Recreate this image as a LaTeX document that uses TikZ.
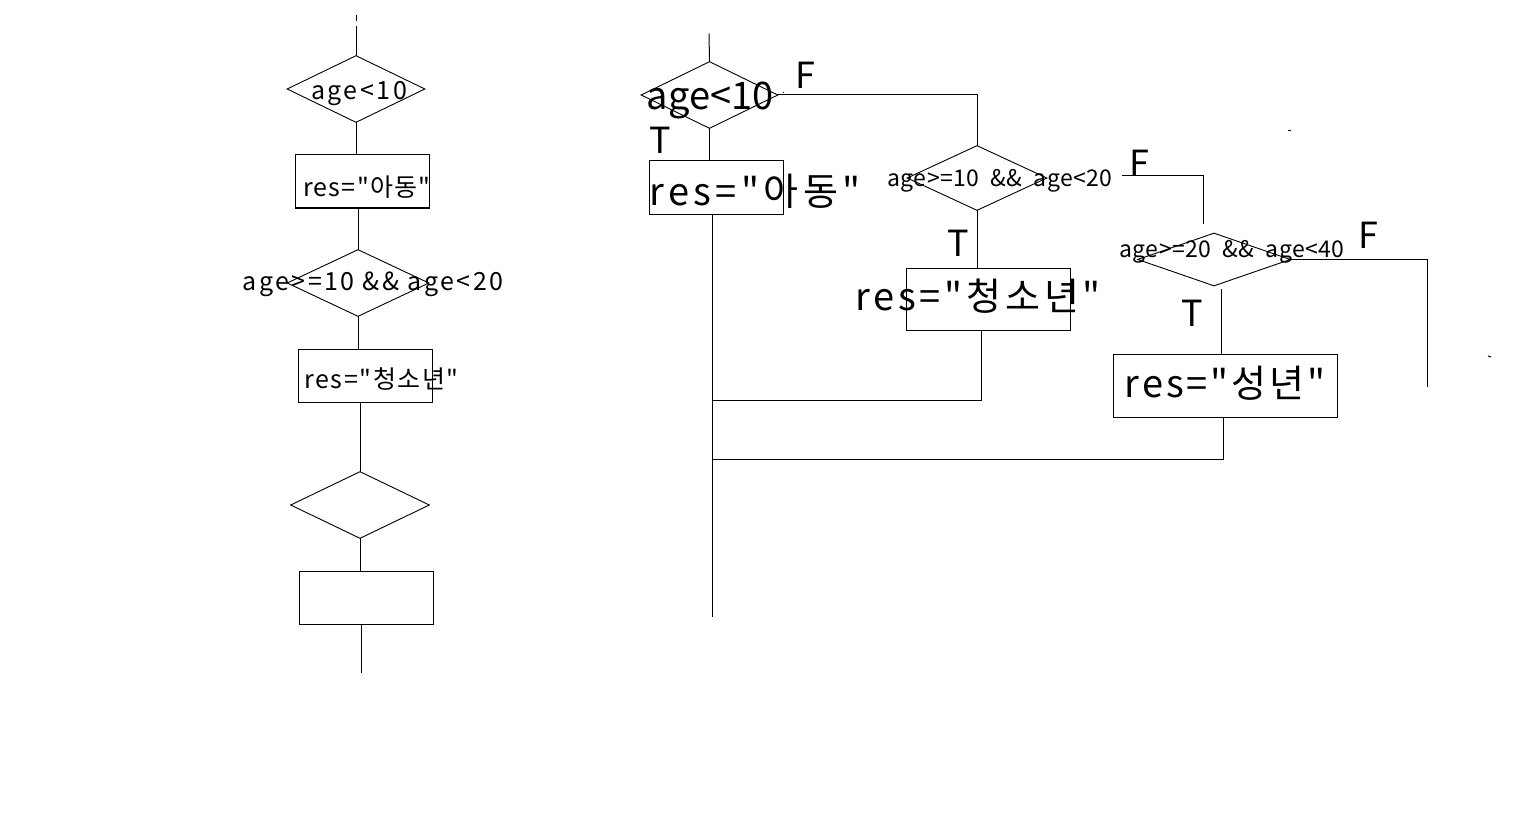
\documentclass[tikz,border=0pt]{standalone}
\usepackage{fontspec}
\setmainfont{Noto Sans CJK KR}[Ligatures=TeXOff]
\usetikzlibrary{shapes.geometric}
\tikzset{
  ln/.style={line width=1pt, line cap=rect},
  dia/.style={diamond, draw, line width=0.9pt, inner sep=0pt, aspect=2},
  boxnode/.style={rectangle, draw, line width=1pt, inner sep=0pt},
  txt/.style={inner sep=0pt, text=black},
}
\newcommand{\fsz}[2]{\fontsize{#1}{#1}\selectfont\addfontfeatures{LetterSpace=#2}}
\begin{document}
\begin{tikzpicture}[x=1pt, y=-1pt]
\useasboundingbox[fill=white] (0,0) rectangle (1519,824);

% ---------- left chart ----------
\node[dia, minimum width=138pt, minimum height=67pt] (d1) at (356,89) {};
\node[boxnode, minimum width=134pt, minimum height=53pt] (b1) at (362,181.5) {};
\node[dia, minimum width=142pt, minimum height=67pt] (d2) at (358,283) {};
\node[boxnode, minimum width=134pt, minimum height=53pt] (b2) at (365,375.5) {};
\node[dia, minimum width=139pt, minimum height=67pt] (d3) at (360,505) {};
\node[boxnode, minimum width=134pt, minimum height=53pt] (b3) at (366,597.5) {};

\node[txt] (t1) at (359,94) {\fsz{25}{10}age<10};
\node[txt, anchor=west] (tb1) at (303,187) {\fsz{25}{5}res="아동"};
\node[txt] (td2) at (373,284) {\fsz{25}{10}age>=10 \&\& age<20};
\node[txt, anchor=west] (tb2) at (304,379) {\fsz{25}{6.5}res="청소년"};

\coordinate (s1) at (356,27);
\coordinate (s0) at (356,16);
\coordinate (e1) at (361,672);
\draw[ln] (s0) -- ++(0,5);
\draw[ln] (s1) -- (d1.north);
\draw[ln] (d1.south) -- (d1.south |- b1.north);
\draw[ln] (d2.north |- b1.south) -- (d2.north);
\draw[ln] (d2.south) -- (d2.south |- b2.north);
\draw[ln] (d3.north |- b2.south) -- (d3.north);
\draw[ln] (d3.south) -- (d3.south |- b3.north);
\draw[ln] (e1 |- b3.south) -- (e1);

% ---------- right chart ----------
\node[dia, minimum width=137pt, minimum height=67pt] (dA) at (709.5,95) {};
\node[boxnode, minimum width=134pt, minimum height=53pt] (bA) at (716,187.5) {};
\node[dia, minimum width=140pt, minimum height=65pt] (dB) at (977,178) {};
\node[boxnode, minimum width=164pt, minimum height=62pt] (bB) at (988,299) {};
\node[dia, minimum width=153pt, minimum height=53pt] (dC) at (1214,259.5) {};
\node[boxnode, minimum width=224pt, minimum height=63pt] (bC) at (1225,385.5) {};

\node[txt] (tA) at (710,100) {\fsz{38}{0}age<10};
\node[txt] (tbA) at (755,191) {\fsz{38}{11.5}res="아동"};
\node[txt] (tdB) at (1000,181) {\fsz{23}{2}age>=10 \ \&\& \ age<20};
\node[txt] (tbB) at (978,296) {\fsz{38}{10}res="청소년"};
\node[txt] (tdC) at (1232,252) {\fsz{23}{2}age>=20 \ \&\& \ age<40};
\node[txt] (tbC) at (1225,383) {\fsz{38}{7.5}res="성년"};

\node[txt] (fA) at (805,75) {\fsz{36}{0}F};
\node[txt] (tTA) at (660,140) {\fsz{36}{0}T};
\node[txt] (fB) at (1139,163) {\fsz{36}{0}F};
\node[txt] (tTB) at (958,243) {\fsz{36}{0}T};
\node[txt] (fC) at (1368,235) {\fsz{36}{0}F};
\node[txt] (tTC) at (1192,313) {\fsz{36}{0}T};

\coordinate (s2) at (709,34);
\coordinate (m1) at (712,616);
\coordinate (gB) at (1122,176);
\coordinate (hB) at (1203,223);
\coordinate (kC) at (1221,289);
\coordinate (pC) at (1427,386);
\coordinate (jB) at (981,400);
\coordinate (jC) at (1223,459);

\draw[ln] (s2) -- (dA.north);
\draw[ln] (dA.east) -| (dB.north);
\draw[ln] (dA.south) -- (dA.south |- bA.north);
\draw[ln] (m1 |- bA.south) -- (m1);
\draw[ln] (dB.south) -- (dB.south |- bB.north);
\draw[ln] (gB) -| (hB);
\draw[ln] (kC) -- (kC |- bC.north);
\draw[ln] (dC.east) -| (pC);
\draw[ln] (jB |- bB.south) -- (jB) -- (jB -| m1);
\draw[ln] (jC |- bC.south) -- (jC) -- (jC -| m1);

% stray specks
\draw[line width=1pt] (1288,131) -- (1291,131);
\draw[line width=1pt] (1488,356) -- (1491,357);
\draw[line width=1pt] (783,93) -- (784,93);
\end{tikzpicture}
\end{document}
